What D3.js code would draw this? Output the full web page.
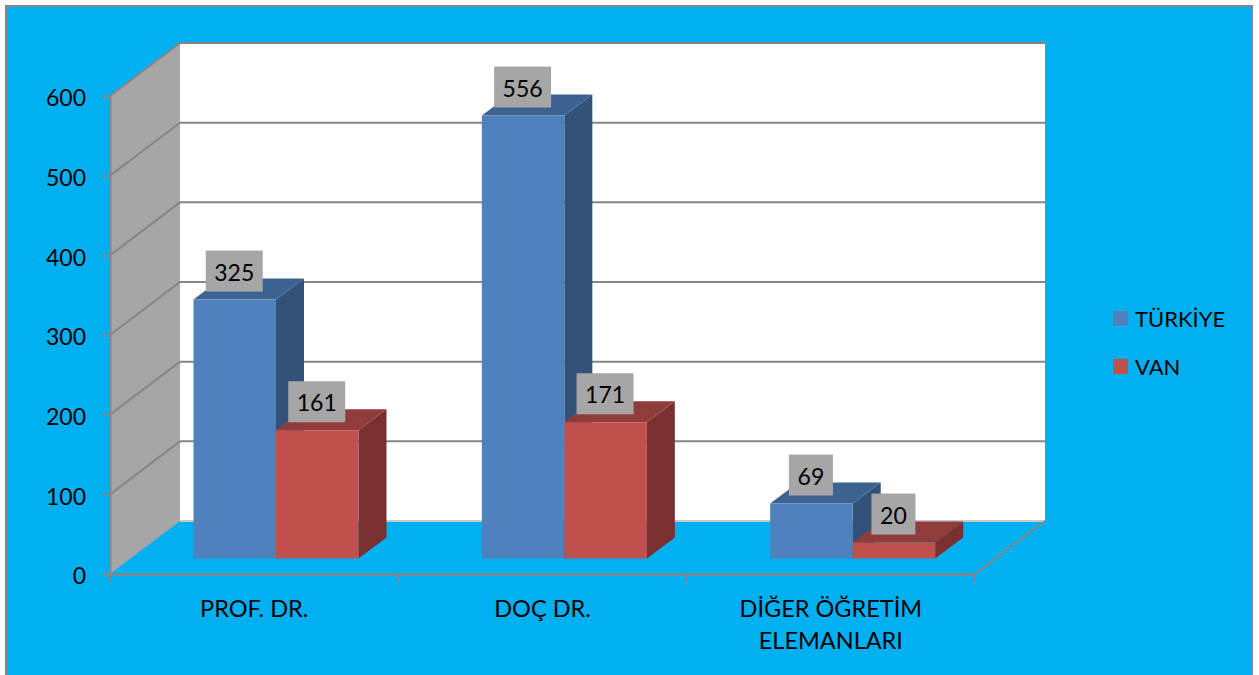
<!DOCTYPE html>
<html>
<head>
<meta charset="utf-8">
<title>Türkiye - Van</title>
<script src="https://d3js.org/d3.v7.min.js"></script>
<style>
html, body { margin: 0; padding: 0; background: #fff; }
svg { display: block; }
text { font-family: Lato, "Open Sans", sans-serif; fill: #000; }
</style>
</head>
<body>
<div id="chart"></div>
<script>
var categories = ["PROF. DR.", "DOÇ DR.", "DİĞER ÖĞRETİM ELEMANLARI"];
var categoryLines = [["PROF. DR."], ["DOÇ DR."], ["DİĞER ÖĞRETİM", "ELEMANLARI"]];
var seriesNames = ["TÜRKİYE", "VAN"];
var turkiye = [325, 556, 69];
var van = [161, 171, 20];
var yTicks = [0, 100, 200, 300, 400, 500, 600];

var seriesValues = [turkiye, van];
var front = ["#4F81BD", "#C0504D"];
var topFace = ["#3C6292", "#8F3C3A"];
var sideFace = ["#32527A", "#7A302E"];
var axisGrey = "#868686";

var width = 1259, height = 675;
var svg = d3.select("#chart").append("svg").attr("width", width).attr("height", height);

var left = 110, right = 975, baseY = 574, topY = 96;
var wallDx = 70, wallDy = -53;   // depth of the room
var barDx = 28, barDy = -21;     // depth of a bar
var floorDx = 21, floorDy = -15.5; // bars stand a bit behind the front edge

var x = d3.scaleBand().domain(categories).range([left, right]);
var y = d3.scaleLinear().domain([0, 600]).range([baseY, topY]);
var x1 = d3.scaleBand().domain(d3.range(seriesNames.length))
  .range([0, 165]);
var barStart = 62.5 + floorDx;

// background
svg.append("rect").attr("x", 6).attr("y", 6).attr("width", 1246).attr("height", 680)
  .attr("fill", "#00B0F0").attr("stroke", axisGrey).attr("stroke-width", 2);

// back wall
svg.append("rect")
  .attr("x", left + wallDx).attr("y", y(600) + wallDy)
  .attr("width", right - left).attr("height", y(0) - y(600))
  .attr("fill", "#fff");

// side wall
svg.append("path")
  .attr("d", d3.line()([[left, y(0)], [left, y(600)], [left + wallDx, y(600) + wallDy], [left + wallDx, y(0) + wallDy]]))
  .attr("fill", "#A6A6A6");

// grid on both walls
var grid = svg.append("g").attr("fill", "none").attr("stroke", axisGrey).attr("stroke-width", 2);
yTicks.forEach(function (t) {
  if (t === 0) return;
  grid.append("path").attr("d", d3.line()([
    [left, y(t)], [left + wallDx, y(t) + wallDy], [right + wallDx, y(t) + wallDy]
  ]));
});
grid.append("path").attr("stroke", "#C8C8C8").attr("d", d3.line()([
  [left + wallDx, y(0) + wallDy], [right + wallDx, y(0) + wallDy]
]));
grid.append("path").attr("d", d3.line()([
  [right, y(0)], [right + wallDx, y(0) + wallDy]
]));

// axes
var yAxis = svg.append("g").attr("transform", "translate(" + left + ",0)")
  .call(d3.axisLeft(y).tickValues(yTicks).tickSize(7).tickPadding(17));
yAxis.selectAll("text").attr("font-size", 23).attr("dy", "0.42em");
yAxis.selectAll("line, path").attr("stroke", axisGrey).attr("stroke-width", 2);

var xAxis = svg.append("g").attr("transform", "translate(0," + baseY + ")")
  .call(d3.axisBottom(x).tickSize(0).tickPadding(0));
xAxis.select("path").attr("stroke", axisGrey).attr("stroke-width", 2.5);
xAxis.selectAll(".tick text").each(function (d, i) {
  var t = d3.select(this).text(null).attr("y", 0).attr("dy", null).attr("font-size", 23.5);
  categoryLines[i].forEach(function (line, k) {
    t.append("tspan").attr("x", 0).attr("y", 43 + k * 32).text(line);
  });
});
xAxis.selectAll(".tick line").remove();
xAxis.selectAll(".edge").data(d3.range(categories.length + 1)).enter().append("line")
  .attr("class", "edge")
  .attr("x1", function (i) { return left + i * x.step(); })
  .attr("x2", function (i) { return left + i * x.step(); })
  .attr("y1", 0).attr("y2", 8)
  .attr("stroke", axisGrey).attr("stroke-width", 2);

// bars, back faces first so the next bar covers them
function barH(v) { return y(0) - y(v); }
var bars = svg.append("g");
categories.forEach(function (c, ci) {
  seriesValues.forEach(function (vals, si) {
    var v = vals[ci];
    var bx = x(c) + barStart + x1(si), w = x1.bandwidth();
    var by = y(v) + floorDy, bottom = y(0) + floorDy;
    bars.append("path").attr("fill", sideFace[si]).attr("d", d3.line()([
      [bx + w, by], [bx + w + barDx, by + barDy], [bx + w + barDx, bottom + barDy], [bx + w, bottom]
    ]));
    bars.append("path").attr("fill", topFace[si]).attr("d", d3.line()([
      [bx, by], [bx + barDx, by + barDy], [bx + w + barDx, by + barDy], [bx + w, by]
    ]));
    bars.append("rect").attr("x", bx).attr("y", by).attr("width", w).attr("height", barH(v))
      .attr("fill", front[si]);
  });
});

// value labels
var labels = svg.append("g");
categories.forEach(function (c, ci) {
  seriesValues.forEach(function (vals, si) {
    var v = vals[ci];
    var cx = x(c) + barStart + x1(si) + x1.bandwidth() / 2 - 0.5;
    var bottom = y(v) + floorDy - 8;
    var bw = String(v).length * 13 + 18;
    labels.append("rect").attr("x", cx - bw / 2).attr("y", bottom - 41).attr("width", bw).attr("height", 41)
      .attr("fill", "#A6A6A6");
    labels.append("text").attr("x", cx).attr("y", bottom - 20.5).attr("dy", "0.42em")
      .attr("text-anchor", "middle").attr("font-size", 23).text(v);
  });
});

// legend
var legend = svg.append("g").selectAll("g").data(seriesNames).enter().append("g")
  .attr("transform", function (d, i) { return "translate(1113," + (311 + i * 48) + ")"; });
legend.append("rect").attr("width", 15).attr("height", 15)
  .attr("fill", function (d, i) { return front[i]; });
legend.append("text").attr("x", 22).attr("y", 7.5).attr("dy", "0.38em")
  .attr("font-size", 22).text(function (d) { return d; });
</script>
</body>
</html>
